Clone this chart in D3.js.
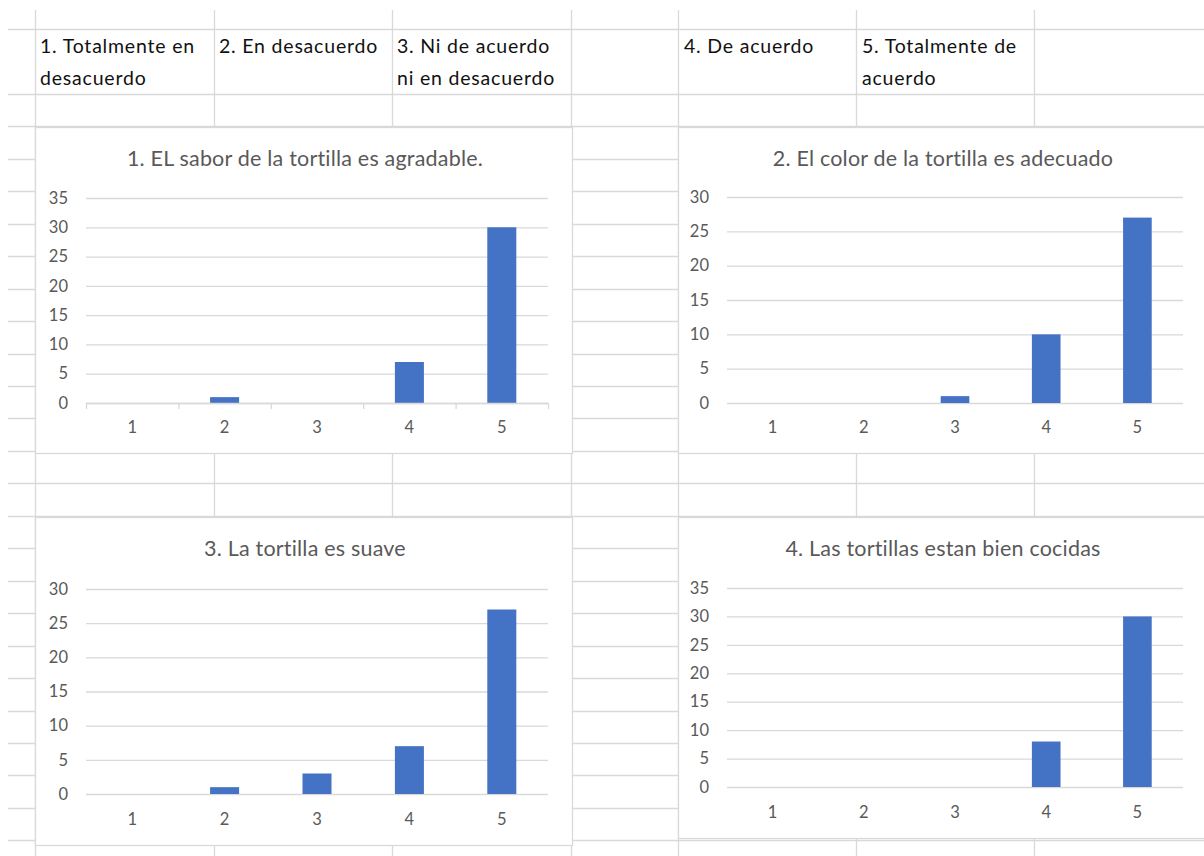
<!DOCTYPE html>
<html>
<head>
<meta charset="utf-8">
<script src="https://cdn.jsdelivr.net/npm/d3@7"></script>
<style>
  html, body { margin: 0; padding: 0; background: #fff; }
  svg { display: block; }
  text { font-family: Lato, "Open Sans", sans-serif; }
</style>
</head>
<body>
<svg id="chart" width="1204" height="856"></svg>
<script>
// ---------- data ----------
const categories = ["1", "2", "3", "4", "5"];
const chartTitles = [
  "1. EL sabor de la tortilla es agradable.",
  "2. El color de la tortilla es adecuado",
  "3. La tortilla es suave",
  "4. Las tortillas estan bien cocidas"
];
const saborValues   = [0, 1, 0, 7, 30];
const colorValues   = [0, 0, 1, 10, 27];
const suaveValues   = [0, 1, 3, 7, 27];
const cocidasValues = [0, 0, 0, 8, 30];
const yTicks35 = [0, 5, 10, 15, 20, 25, 30, 35];
const yTicks30 = [0, 5, 10, 15, 20, 25, 30];
const headerLabels = [
  ["1. Totalmente en", "desacuerdo"],
  ["2. En desacuerdo"],
  ["3. Ni de acuerdo", "ni en desacuerdo"],
  ["4. De acuerdo"],
  ["5. Totalmente de", "acuerdo"]
];

// ---------- layout ----------
const svg = d3.select("#chart");
const W = 1204, H = 856;
const gridColor = "#d9d9d9";

const colLines = [35, 214, 392, 571, 678, 856, 1034];
const rowLines = [29];
for (let y = 94; y < H; y += 32.45) rowLines.push(Math.round(y));

const grid = svg.append("g");
grid.selectAll("line.r").data(rowLines).join("line")
  .attr("x1", 8).attr("x2", W)
  .attr("y1", d => d + 0.5).attr("y2", d => d + 0.5)
  .attr("stroke", gridColor).attr("stroke-width", 1.3);
grid.selectAll("line.c").data(colLines).join("line")
  .attr("x1", d => d + 0.5).attr("x2", d => d + 0.5)
  .attr("y1", 10).attr("y2", H)
  .attr("stroke", gridColor).attr("stroke-width", 1.3);

// header cells
const headerX = [40, 219, 397, 684, 862];
headerLabels.forEach((lines, i) => {
  const t = svg.append("text")
    .attr("x", headerX[i]).attr("y", 53)
    .attr("fill", "#111").attr("font-size", "19.5px")
    .attr("letter-spacing", "0.8px");
  lines.forEach((ln, j) => {
    t.append("tspan").attr("x", headerX[i]).attr("dy", j === 0 ? 0 : 32).text(ln);
  });
});

// ---------- charts ----------
const charts = [
  { title: chartTitles[0], values: saborValues,   ticks: yTicks35, box: [35, 127, 537, 326], plot: [86, 548, 198, 403], titleY: 166, xLabY: 433, axisTicks: true },
  { title: chartTitles[1], values: colorValues,   ticks: yTicks30, box: [678, 127, 560, 326], plot: [727, 1183, 197, 403], titleY: 166, xLabY: 433, axisTicks: false },
  { title: chartTitles[2], values: suaveValues,   ticks: yTicks30, box: [35, 517, 537, 328], plot: [86, 548, 589, 794], titleY: 556, xLabY: 825, axisTicks: false },
  { title: chartTitles[3], values: cocidasValues, ticks: yTicks35, box: [678, 517, 560, 321], plot: [727, 1183, 588, 787], titleY: 556, xLabY: 818, axisTicks: false }
];

charts.forEach(c => {
  const g = svg.append("g");
  const [bx, by, bw, bh] = c.box;
  g.append("rect").attr("x", bx + 0.5).attr("y", by + 0.5)
    .attr("width", bw).attr("height", bh)
    .attr("fill", "#fff").attr("stroke", gridColor).attr("stroke-width", 1.3);

  const [l, r, top, bottom] = c.plot;
  const x = d3.scaleBand().domain(categories).range([l, r])
    .paddingInner(0.686).paddingOuter(0.343);
  const y = d3.scaleLinear().domain([0, d3.max(c.ticks)]).range([bottom, top]);

  // title
  g.append("text").attr("x", (l + r) / 2 - 12).attr("y", c.titleY)
    .attr("text-anchor", "middle").attr("fill", "#595959")
    .attr("font-size", "21.5px").attr("letter-spacing", "0.2px").text(c.title);

  // y axis with gridlines
  const yAxis = d3.axisLeft(y).tickValues(c.ticks).tickSize(-(r - l)).tickPadding(18);
  const ya = g.append("g").attr("transform", `translate(${l},0)`).call(yAxis);
  ya.select(".domain").remove();
  ya.selectAll(".tick line").attr("stroke", gridColor).attr("stroke-width", 1.3);
  ya.selectAll(".tick text").attr("fill", "#595959").attr("font-size", "16.5px")
    .attr("font-family", "Lato, 'Open Sans', sans-serif");

  // bars
  g.selectAll("rect.bar").data(c.values).join("rect")
    .attr("class", "bar")
    .attr("x", (d, i) => x(categories[i]))
    .attr("width", x.bandwidth())
    .attr("y", d => y(d))
    .attr("height", d => y(0) - y(d))
    .attr("fill", "#4472c4");

  // x axis
  const xAxis = d3.axisBottom(x).tickSize(0).tickPadding(0);
  const xa = g.append("g").attr("transform", `translate(0,${bottom})`).call(xAxis);
  xa.select(".domain").remove();
  xa.selectAll(".tick text").attr("fill", "#595959").attr("font-size", "16.5px")
    .attr("font-family", "Lato, 'Open Sans', sans-serif")
    .attr("dy", null).attr("y", c.xLabY - bottom);

  if (c.axisTicks) {
    const step = x.step();
    const bounds = categories.map(k => x(k) + x.bandwidth() / 2 - step / 2).concat([r]);
    g.append("line").attr("x1", l).attr("x2", r)
      .attr("y1", bottom + 0.5).attr("y2", bottom + 0.5)
      .attr("stroke", gridColor).attr("stroke-width", 1.3);
    g.selectAll("line.xt").data(bounds).join("line")
      .attr("class", "xt")
      .attr("x1", d => d + 0.5).attr("x2", d => d + 0.5)
      .attr("y1", bottom).attr("y2", bottom + 6)
      .attr("stroke", gridColor).attr("stroke-width", 1.3);
  }
});
</script>
</body>
</html>
